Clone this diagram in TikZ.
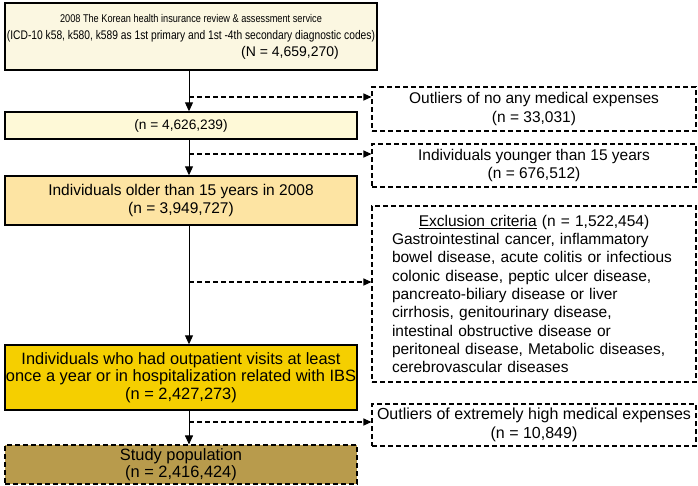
\documentclass[tikz,border=0pt]{standalone}
\usepackage{fontspec}
\setmainfont{Liberation Sans}
\newfontfamily\srcfont{Liberation Sans}[FakeStretch=0.82]
\usetikzlibrary{arrows.meta}
\definecolor{creamA}{HTML}{FBF7E1}
\definecolor{creamB}{HTML}{FEF9D7}
\definecolor{peach}{HTML}{FDE4A3}
\definecolor{gold}{HTML}{F5CF00}
\definecolor{olive}{HTML}{B89B4C}
\newcommand{\excl}[2]{\draw[dashline,-{Triangle[length=8pt,width=7pt]}] (#1) -- (#1 -| #2.west)}

\begin{document}
\begin{tikzpicture}[x=1pt,y=-1pt,
	font=\fontsize{15.5}{18.3}\selectfont,
	mainbox/.style={draw,line width=1.4pt,inner sep=0pt,align=center,minimum width=352pt},
	sidebox/.style={draw,dashline,inner sep=0pt,align=center,minimum width=324pt},
	dashline/.style={line width=1.1pt,dash pattern=on 5pt off 3pt}]
	\useasboundingbox (0,0) rectangle (698,485);
		\node[mainbox,fill=creamA,minimum width=372pt,minimum height=67pt,
			font=\srcfont\fontsize{12.5}{17}\selectfont] (src) at (191,36.5)
			{{\fontsize{11.2}{17}\selectfont 2008 The Korean health insurance review \& assessment service}\\
			 (ICD-10 k58, k580, k589 as 1st primary and 1st -4th secondary diagnostic codes)\\
			 \hspace*{198pt}{\normalfont\fontsize{14}{17}\selectfont(N = 4,659,270)}};
		\node[mainbox,fill=creamB,minimum height=27pt,font=\fontsize{13.7}{17}\selectfont] (n1)
			at (181,125.5) {(n = 4,626,239)};
		\node[mainbox,fill=peach,minimum height=49pt,font=\fontsize{15.5}{18}\selectfont] (n2)
			at (181,200.5) {Individuals older than 15 years in 2008\\(n = 3,949,727)};
		\node[mainbox,fill=gold,minimum height=65pt,font=\fontsize{16.4}{17.5}\selectfont] (n3)
			at (181,377.5)
			{Individuals who had outpatient visits at least\\
			 once a year or in hospitalization related with IBS\\
			 (n = 2,427,273)};
		\node[mainbox,dashline,fill=olive,minimum height=39pt,font=\fontsize{16.4}{17}\selectfont] (pop)
			at (181,464.5) {Study population\\(n = 2,416,424)};
			\node[sidebox,minimum height=44pt] (out1) at (534,109)
				{Outliers of no any medical expenses\\(n = 33,031)};
			\node[sidebox,minimum height=43pt] (young) at (534,165.5)
				{Individuals younger than 15 years\\(n = 676,512)};
			\node[sidebox,minimum height=176pt,align=left,text width=284pt,
				minimum width=324pt] (crit) at (534,294)
				{\makebox[284pt]{\underline{Exclusion criteria} (n = 1,522,454)}\\
				 Gastrointestinal cancer, inflammatory\\
				 bowel disease, acute colitis or infectious\\
				 colonic disease, peptic ulcer disease,\\
				 pancreato-biliary disease or liver\\
				 cirrhosis, genitourinary disease,\\
				 intestinal obstructive disease or\\
				 peritoneal disease, Metabolic diseases,\\
				 cerebrovascular diseases};
			\node[sidebox,minimum height=42pt,font=\fontsize{16}{19}\selectfont] (out2) at (534,425)
				{Outliers of extremely high medical expenses\\(n = 10,849)};
		% trunk and branches
		\coordinate (t) at (189,0);
		\coordinate (b1) at (189,97);
		\coordinate (b2) at (189,154);
		\coordinate (b3) at (189,282);
		\coordinate (b4) at (189,422);
		\begin{scope}[line width=0.9pt,-{Triangle[length=9pt,width=8pt]}]
			\draw (src.south -| t) -- (n1.north -| t);
			\draw (n1.south -| t) -- (n2.north -| t);
			\draw (n2.south -| t) -- (n3.north -| t);
			\draw (n3.south -| t) -- (pop.north -| t);
		\end{scope}
				\excl{b1}{out1};
				\excl{b2}{young};
				\excl{b3}{crit};
				\excl{b4}{out2};
	\end{tikzpicture}
\end{document}
